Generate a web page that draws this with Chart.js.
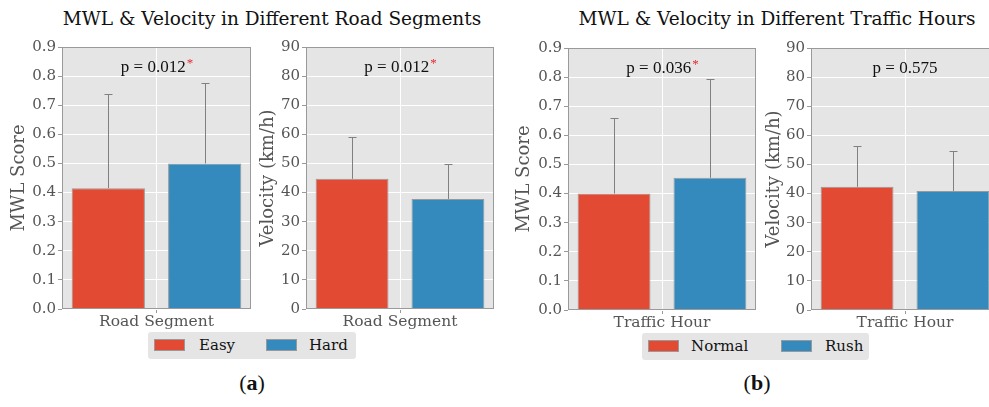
<!DOCTYPE html>
<html>
<head>
<meta charset="utf-8">
<script src="https://cdn.jsdelivr.net/npm/chart.js@4.4.0/dist/chart.umd.min.js"></script>
<style>
  body { margin: 0; width: 989px; height: 407px; overflow: hidden; background: #fff; position: relative; font-family: "DejaVu Serif", serif; }
  canvas { position: absolute; top: 0; }
  .suptitle { position: absolute; top: 8px; font-size: 18.5px; color: #111; white-space: nowrap; transform: translateX(-50%); }
  .legend { position: absolute; background: #e5e5e5; border-radius: 3px; height: 27px; font-size: 15px; color: #111; }
  .sw { position: absolute; top: 7px; width: 29px; height: 10px; border: 1px solid #999; }
  .lt { position: absolute; top: 4px; white-space: nowrap; }
  .sub { position: absolute; top: 370px; font-family: "Liberation Serif", serif; font-size: 22px; color: #111; transform: translateX(-50%); }
</style>
</head>
<body>
<div class="suptitle" style="left:272px">MWL &amp; Velocity in Different Road Segments</div>
<div class="suptitle" style="left:777px">MWL &amp; Velocity in Different Traffic Hours</div>

<canvas id="c1" width="260" height="340" style="left:0px"></canvas>
<canvas id="c2" width="250" height="340" style="left:255px"></canvas>
<canvas id="c3" width="260" height="340" style="left:510px"></canvas>
<canvas id="c4" width="250" height="340" style="left:760px"></canvas>

<div class="legend" id="legA" style="left:148px; top:332px; width:208px"></div>
<div class="legend" id="legB" style="left:642px; top:333px; width:227px"></div>

<div class="sub" style="left:252px">(<b>a</b>)</div>
<div class="sub" style="left:757px">(<b>b</b>)</div>

<script>
// grupos e valores
const roadGroups = ['Easy', 'Hard'];
const trafficGroups = ['Normal', 'Rush'];

const roadMwlMean = [0.415, 0.500];
const roadMwlSd = [0.322, 0.275];
const roadVelMean = [44.7, 37.8];
const roadVelSd = [14.3, 11.9];

const trafficMwlMean = [0.400, 0.454];
const trafficMwlSd = [0.260, 0.340];
const trafficVelMean = [42.3, 40.9];
const trafficVelSd = [13.9, 13.6];

const pValues = ['0.012', '0.012', '0.036', '0.575'];
const pSignificant = [true, true, true, false];

const colors = ['#E24A33', '#348ABD'];

// fundo cinza da área do gráfico
const panelBg = {
  id: 'panelBg',
  beforeDraw(chart) {
    const { ctx, chartArea: a } = chart;
    ctx.save();
    ctx.fillStyle = '#e5e5e5';
    ctx.fillRect(a.left, a.top, a.width, a.height);
    ctx.restore();
  }
};

// barras de erro (só para cima) + moldura + texto do p
const extras = {
  id: 'extras',
  afterDatasetsDraw(chart, args, opts) {
    const ctx = chart.ctx;
    const y = chart.scales.y;
    ctx.save();
    ctx.strokeStyle = '#808080';
    ctx.lineWidth = 1;
    chart.data.datasets.forEach((ds, i) => {
      const bar = chart.getDatasetMeta(i).data[0];
      const x = Math.round(bar.x) + 0.5;
      const y0 = y.getPixelForValue(ds.data[0]);
      const y1 = Math.round(y.getPixelForValue(ds.data[0] + ds.sd[0])) + 0.5;
      ctx.beginPath();
      ctx.moveTo(x, y0);
      ctx.lineTo(x, y1);
      ctx.moveTo(x - 4, y1);
      ctx.lineTo(x + 4, y1);
      ctx.stroke();
    });
    ctx.restore();
  },
  afterDraw(chart, args, opts) {
    const { ctx, chartArea: a } = chart;
    ctx.save();
    ctx.strokeStyle = '#9a9a9a';
    ctx.lineWidth = 1;
    ctx.strokeRect(Math.round(a.left) + 0.5, Math.round(a.top) + 0.5, Math.round(a.width) - 1, Math.round(a.height) - 1);

    const txt = 'p = ' + opts.p;
    ctx.font = '17px "Liberation Serif"';
    const w1 = ctx.measureText(txt).width;
    let w2 = 0;
    if (opts.sig) {
      ctx.font = '13px "Liberation Serif"';
      w2 = ctx.measureText('*').width;
    }
    const cx = (a.left + a.right) / 2;
    const x0 = cx - (w1 + w2) / 2;
    const base = a.top + 25;
    ctx.textBaseline = 'alphabetic';
    ctx.textAlign = 'left';
    ctx.fillStyle = '#111';
    ctx.font = '17px "Liberation Serif"';
    ctx.fillText(txt, x0, base);
    if (opts.sig) {
      ctx.fillStyle = '#e8262b';
      ctx.font = '13px "Liberation Serif"';
      ctx.fillText('*', x0 + w1 + 1, base - 5);
    }
    ctx.restore();
  }
};

function makeChart(id, cfg) {
  const datasets = cfg.groups.map((g, i) => ({
    label: g,
    data: [cfg.means[i]],
    sd: [cfg.sds[i]],
    backgroundColor: colors[i],
    borderColor: '#999',
    borderWidth: 1,
    categoryPercentage: 1.02,
    barPercentage: 0.76
  }));

  return new Chart(document.getElementById(id), {
    type: 'bar',
    data: { labels: [cfg.xLabel], datasets: datasets },
    plugins: [panelBg, extras],
    options: {
      responsive: false,
      animation: false,
      devicePixelRatio: 1,
      layout: { padding: cfg.pad },
      plugins: {
        legend: { display: false },
        tooltip: { enabled: false },
        extras: { p: cfg.p, sig: cfg.sig }
      },
      scales: {
        x: {
          offset: true,
          grid: { color: '#ffffff', offset: false, tickColor: '#999', tickLength: 4, lineWidth: 1 },
          border: { display: false },
          ticks: { color: '#555', padding: 0, font: { family: 'DejaVu Serif', size: 15.5 } },
          afterFit(s) { s.height = cfg.xHeight; }
        },
        y: {
          min: 0,
          max: cfg.yMax,
          grid: { color: '#ffffff', tickColor: '#999', tickLength: 4, lineWidth: 1 },
          border: { display: false },
          ticks: {
            stepSize: cfg.yStep,
            color: '#555',
            padding: 2,
            font: { family: 'DejaVu Serif', size: 15 },
            callback: v => v.toFixed(cfg.decimals)
          },
          title: {
            display: true,
            text: cfg.yTitle,
            color: '#555',
            padding: { top: 0, bottom: 0 },
            font: { family: 'DejaVu Serif', size: 18 }
          },
          afterFit(s) { s.width = cfg.yWidth; }
        }
      }
    }
  });
}

makeChart('c1', {
  xLabel: 'Road Segment', groups: roadGroups, means: roadMwlMean, sds: roadMwlSd,
  yMax: 0.9, yStep: 0.1, decimals: 1, yTitle: 'MWL Score',
  p: pValues[0], sig: pSignificant[0],
  pad: { left: 9, right: 9, top: 47, bottom: 0 }, yWidth: 53, xHeight: 31
});
makeChart('c2', {
  xLabel: 'Road Segment', groups: roadGroups, means: roadVelMean, sds: roadVelSd,
  yMax: 90, yStep: 10, decimals: 0, yTitle: 'Velocity (km/h)',
  p: pValues[1], sig: pSignificant[1],
  pad: { left: 3, right: 11, top: 47, bottom: 0 }, yWidth: 48, xHeight: 31
});
makeChart('c3', {
  xLabel: 'Traffic Hour', groups: trafficGroups, means: trafficMwlMean, sds: trafficMwlSd,
  yMax: 0.9, yStep: 0.1, decimals: 1, yTitle: 'MWL Score',
  p: pValues[2], sig: pSignificant[2],
  pad: { left: 4, right: 14, top: 48, bottom: 0 }, yWidth: 54, xHeight: 30
});
makeChart('c4', {
  xLabel: 'Traffic Hour', groups: trafficGroups, means: trafficVelMean, sds: trafficVelSd,
  yMax: 90, yStep: 10, decimals: 0, yTitle: 'Velocity (km/h)',
  p: pValues[3], sig: pSignificant[3],
  pad: { left: 4, right: 11, top: 48, bottom: 0 }, yWidth: 47, xHeight: 30
});

// legendas em html, uma por figura
function buildLegend(id, groups, offsets) {
  const el = document.getElementById(id);
  groups.forEach((g, i) => {
    const sw = document.createElement('div');
    sw.className = 'sw';
    sw.style.left = offsets[i][0] + 'px';
    sw.style.background = colors[i];
    el.appendChild(sw);
    const t = document.createElement('div');
    t.className = 'lt';
    t.style.left = offsets[i][1] + 'px';
    t.textContent = g;
    el.appendChild(t);
  });
}
buildLegend('legA', roadGroups, [[6, 51], [118, 161]]);
buildLegend('legB', trafficGroups, [[6, 49], [139, 183]]);
</script>
</body>
</html>
